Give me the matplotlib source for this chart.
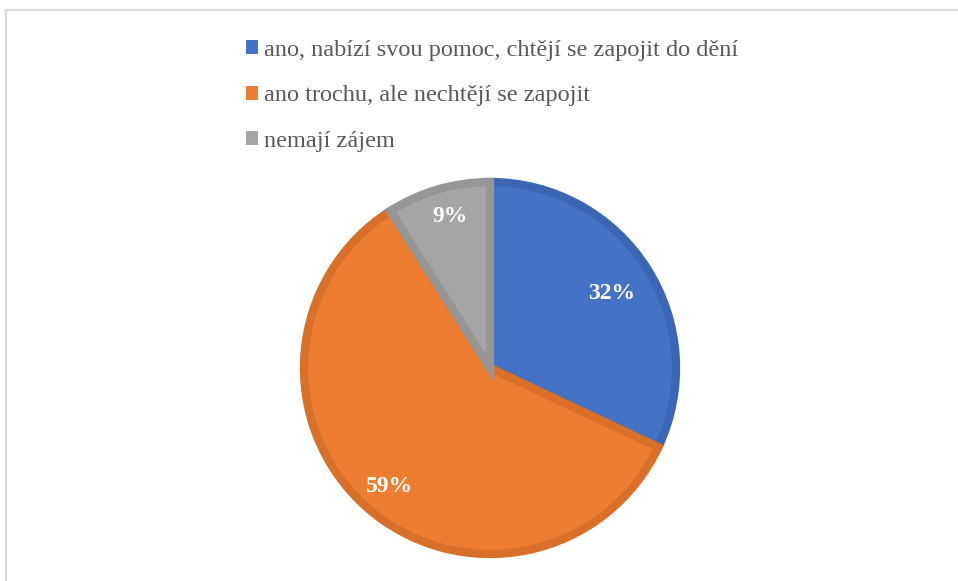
import numpy as np
import matplotlib
matplotlib.use('Agg')
import matplotlib.pyplot as plt
from matplotlib.patches import Patch
from matplotlib.lines import Line2D

categories = ['ano, nabízí svou pomoc, chtějí se zapojit do dění',
              'ano trochu, ale nechtějí se zapojit',
              'nemají zájem']
values = [32, 59, 9]

fill_colors = ['#4472C4', '#ED7D31', '#A5A5A5']
edge_colors = ['#3A66B4', '#D87029', '#969696']
label_dist = [0.75, 0.85, 0.85]

plt.rcParams['font.family'] = ['Liberation Serif', 'DejaVu Serif']

W, H = 958, 581
fig = plt.figure(figsize=(W / 100, H / 100), dpi=100)
ax = fig.add_axes([0, 0, 1, 1])

cx, cy, R = 490, H - 368, 186
wedges, texts, autotexts = ax.pie(values, colors=fill_colors, startangle=90, counterclock=False,
                                  center=(cx, cy), radius=R, autopct='%1.0f%%',
                                  wedgeprops=dict(linewidth=6, joinstyle='miter'),
                                  textprops=dict(color='white', fontsize=17, fontweight='bold'))
for w, ec in zip(wedges, edge_colors):
    w.set_edgecolor(ec)

for w, t, d in zip(wedges, autotexts, label_dist):
    ang = np.deg2rad((w.theta1 + w.theta2) / 2)
    t.set_position((cx + 4 + d * R * np.cos(ang), cy + d * R * np.sin(ang)))

# pie() resets the limits, so set pixel limits afterwards
ax.set_xlim(0, W)
ax.set_ylim(0, H)
ax.set_aspect('equal')
ax.axis('off')

handles = [Patch(facecolor=c, edgecolor='none', label=l) for c, l in zip(fill_colors, categories)]
leg = fig.legend(handles=handles, loc='upper left', bbox_to_anchor=(246 / W, 1 - 40 / H),
                 frameon=False, fontsize=17.5, handlelength=0.5, handleheight=0.5,
                 handletextpad=0.25, labelspacing=1.0, borderpad=0, borderaxespad=0)
for t in leg.get_texts():
    t.set_color('#595959')

# frame lines of the chart area
fig.add_artist(Line2D([6 / W, 1], [1 - 10 / H, 1 - 10 / H], color='#D9D9D9', lw=1.5))
fig.add_artist(Line2D([6 / W, 6 / W], [0, 1 - 10 / H], color='#D9D9D9', lw=1.5))

fig.savefig('out.png', dpi=100)
